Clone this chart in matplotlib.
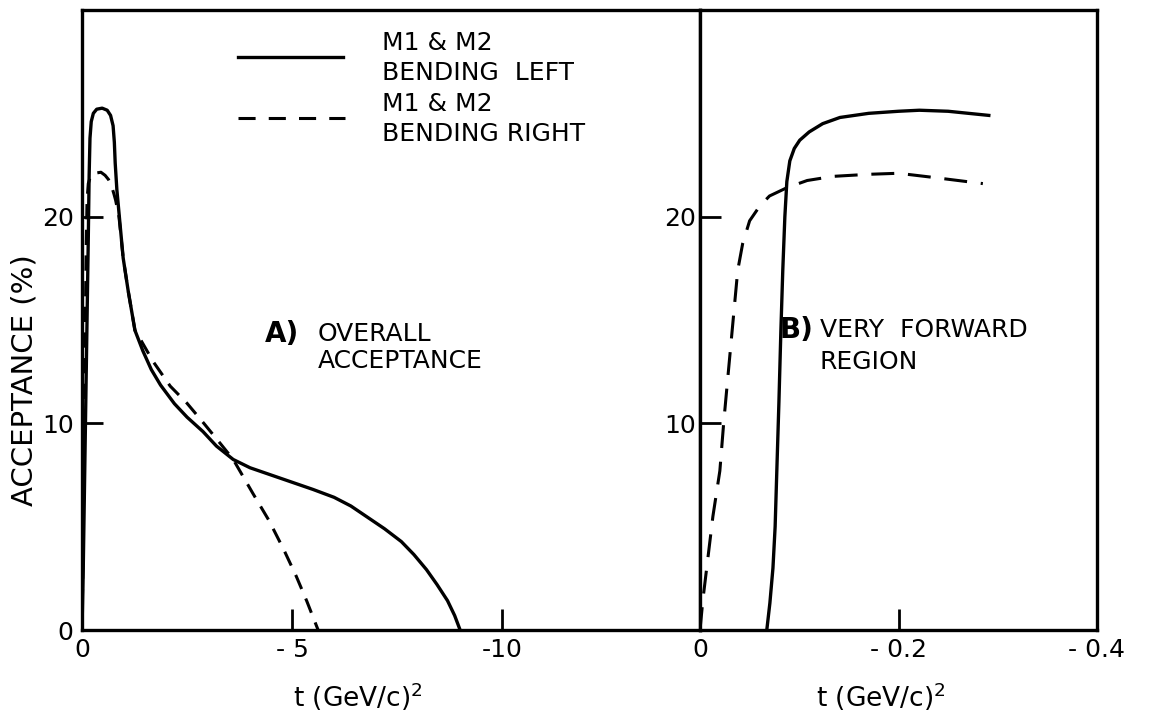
import numpy as np
import matplotlib
matplotlib.use("Agg")
import matplotlib.pyplot as plt

# panel A: overall acceptance, t in (GeV/c)^2, acceptance in %
tA_left = [0, -0.03, -0.06, -0.09, -0.12, -0.15, -0.17, -0.19, -0.22, -0.27, -0.35,
           -0.48, -0.60, -0.68, -0.74, -0.77, -0.79, -0.83, -0.98, -1.10, -1.26,
           -1.45, -1.65, -1.87, -2.20, -2.50, -2.88, -3.20, -3.60, -4.00, -4.50,
           -5.00, -5.50, -6.00, -6.40, -6.80, -7.20, -7.60, -7.90, -8.20, -8.45,
           -8.70, -8.87, -9.00]
accA_left = [0, 3, 7, 11, 15, 19, 22, 23.8, 24.6, 25.0, 25.2,
             25.25, 25.15, 24.9, 24.4, 23.6, 22.6, 21.3, 18.0, 16.4, 14.5,
             13.5, 12.6, 11.85, 10.95, 10.3, 9.6, 8.9, 8.25, 7.85, 7.5,
             7.15, 6.8, 6.42, 6.0, 5.45, 4.9, 4.28, 3.65, 2.92, 2.2,
             1.42, 0.7, 0]

tA_right = [0, -0.02, -0.04, -0.06, -0.08, -0.10, -0.12, -0.15, -0.20, -0.30, -0.45,
            -0.55, -0.63, -0.70, -0.76, -0.80, -0.88, -0.98, -1.10, -1.26, -1.31,
            -1.69, -2.10, -2.50, -2.90, -3.29, -3.60, -4.07, -4.45, -4.80, -5.10,
            -5.35, -5.62]
accA_right = [0, 3, 7, 11, 15, 18.5, 20.8, 21.6, 21.95, 22.1, 22.15,
              22.0, 21.8, 21.5, 21.1, 20.8, 20.0, 18.0, 16.4, 14.5, 14.35,
              13.0, 11.8, 10.97, 10.0, 9.03, 8.25, 6.6, 5.3, 3.9, 2.6,
              1.4, 0]

# panel B: very forward region
tB_left = [-0.0673, -0.0704, -0.0735, -0.0757, -0.0774, -0.0795, -0.0815, -0.0834,
           -0.0855, -0.0875, -0.0905, -0.095, -0.1005, -0.110, -0.1236, -0.141,
           -0.170, -0.200, -0.221, -0.250, -0.291]
accB_left = [0, 1.3, 3.0, 5.0, 7.7, 11.0, 14.5, 17.4,
             20.0, 21.7, 22.7, 23.3, 23.7, 24.1, 24.5, 24.8,
             25.0, 25.1, 25.15, 25.1, 24.9]

tB_right = [0, -0.003, -0.008, -0.013, -0.020, -0.024, -0.028, -0.033, -0.038,
            -0.043, -0.050, -0.060, -0.070, -0.0875, -0.108, -0.134, -0.170,
            -0.200, -0.235, -0.285]
accB_right = [0, 1.5, 3.5, 5.5, 7.7, 10.1, 12.2, 14.8, 17.4,
              18.7, 19.8, 20.5, 21.0, 21.4, 21.75, 21.95, 22.05,
              22.1, 21.9, 21.6]

W, H = 1156, 724
fig = plt.figure(figsize=(W / 100, H / 100), dpi=100)
plt.rcParams['font.family'] = ['DejaVu Sans']

ax1 = fig.add_axes([82 / W, 94 / H, 618 / W, 620 / H])
ax2 = fig.add_axes([700 / W, 94 / H, 397 / W, 620 / H])

lw = 2.4
dlw = 2.2

ax1.plot(tA_left, accA_left, color='black', lw=lw, solid_joinstyle='round')
ax1.plot(tA_right, accA_right, color='black', lw=dlw, linestyle=(0, (5, 3.4)))
ax2.plot(tB_left, accB_left, color='black', lw=lw, solid_joinstyle='round')
ax2.plot(tB_right, accB_right, color='black', lw=dlw, linestyle=(0, (7.5, 4.5)))

ax1.set_xlim(0, -14.71)
ax2.set_xlim(0, -0.4)
for ax in (ax1, ax2):
    ax.set_ylim(0, 30)
    for s in ax.spines.values():
        s.set_linewidth(2.4)
    ax.tick_params(direction='in', length=15, width=2, labelsize=18, pad=6)

ax1.set_xticks([0, -5, -10])
ax1.set_xticklabels(['0', '- 5', '-10'])
ax1.set_yticks([0, 10, 20])
ax1.set_yticklabels(['0', '10', '20'])
ax2.set_xticks([0, -0.2, -0.4])
ax2.set_xticklabels(['0', '- 0.2', '- 0.4'])
ax2.set_yticks([10, 20])
ax2.set_yticklabels(['10', '20'])
ax2.tick_params(axis='y', pad=3)

fs = 18
fig.text(25 / W, 1 - 380 / H, 'ACCEPTANCE (%)', rotation=90, fontsize=21,
         ha='center', va='center')
fig.text(358 / W, 1 - 697 / H, r't (GeV/c)$^2$', fontsize=19, ha='center', va='center')
fig.text(881 / W, 1 - 697 / H, r't (GeV/c)$^2$', fontsize=19, ha='center', va='center')

# legend drawn by hand in axes-fraction coords
ax1.plot([(238 - 82) / 618, (343 - 82) / 618], [1 - 47 / 620, 1 - 47 / 620],
         transform=ax1.transAxes, color='black', lw=lw)
ax1.plot([(238 - 82) / 618, (345 - 82) / 618], [1 - 108 / 620, 1 - 108 / 620],
         transform=ax1.transAxes, color='black', lw=dlw, linestyle=(0, (5.6, 4.3)))
leg_x = (382 - 82) / 618
for y, s in [(43, 'M1 & M2'), (73, 'BENDING  LEFT'), (104, 'M1 & M2'), (134, 'BENDING RIGHT')]:
    ax1.text(leg_x, 1 - (y - 10) / 620, s, transform=ax1.transAxes, fontsize=fs,
             ha='left', va='center')

ax1.text((265 - 82) / 618, 1 - (334 - 10) / 620, 'A)', transform=ax1.transAxes,
         fontsize=20, fontweight='bold', ha='left', va='center')
ax1.text((318 - 82) / 618, 1 - (334 - 10) / 620, 'OVERALL', transform=ax1.transAxes,
         fontsize=fs, ha='left', va='center')
ax1.text((318 - 82) / 618, 1 - (361 - 10) / 620, 'ACCEPTANCE', transform=ax1.transAxes,
         fontsize=fs, ha='left', va='center')

ax2.text((780 - 700) / 397, 1 - (330 - 10) / 620, 'B)', transform=ax2.transAxes,
         fontsize=20, fontweight='bold', ha='left', va='center')
ax2.text((820 - 700) / 397, 1 - (330 - 10) / 620, 'VERY  FORWARD', transform=ax2.transAxes,
         fontsize=fs, ha='left', va='center')
ax2.text((820 - 700) / 397, 1 - (362 - 10) / 620, 'REGION', transform=ax2.transAxes,
         fontsize=fs, ha='left', va='center')

fig.savefig('out.png', dpi=100)
